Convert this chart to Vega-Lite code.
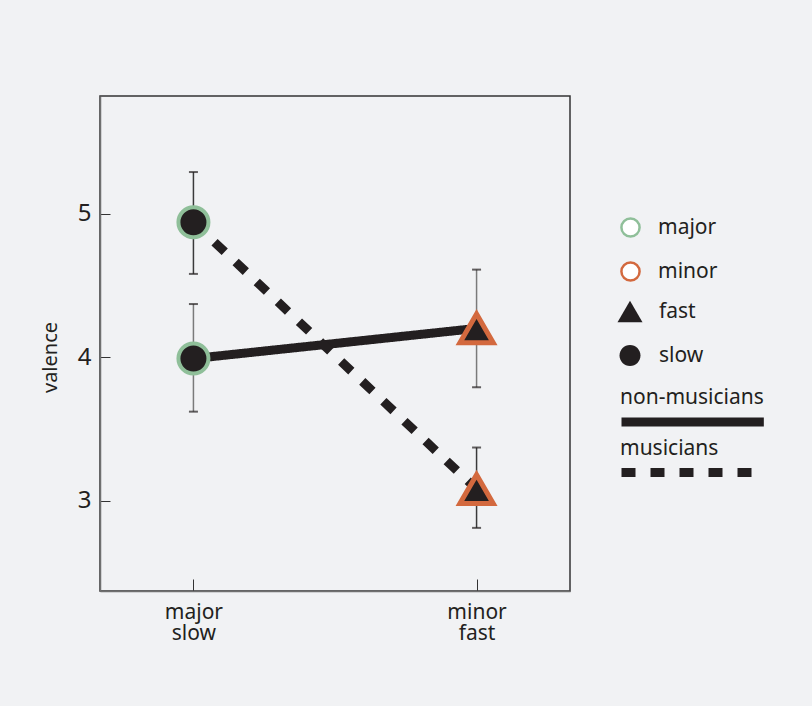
{
  "$schema": "https://vega.github.io/schema/vega-lite/v6.json",
  "width": 470,
  "height": 495,
  "autosize": {"type": "none"},
  "padding": {"left": 100, "top": 96, "right": 242, "bottom": 115},
  "background": "#f1f2f4",
  "config": {
    "font": "Noto Sans",
    "view": {"stroke": "#333333", "strokeWidth": 1.5},
    "style": {"guide-label": {"lineHeight": 48}},
    "axis": {"grid": false, "domainColor": "#707070", "domainWidth": 1.5, "tickColor": "#333333", "tickWidth": 1, "labelColor": "#231f20", "titleColor": "#231f20", "labelFont": "Noto Sans", "titleFont": "Noto Sans"},
    "legend": {"labelFont": "Noto Sans", "labelFontSize": 21, "labelColor": "#231f20", "padding": 0}
  },
  "data": {
    "values": [
      {"group": "non-musicians", "cond": "major/slow", "key": "major", "tempo": "slow", "valence": 3.99, "lo": 3.62, "hi": 4.37},
      {"group": "non-musicians", "cond": "minor/fast", "key": "minor", "tempo": "fast", "valence": 4.2, "lo": 3.79, "hi": 4.61},
      {"group": "musicians", "cond": "major/slow", "key": "major", "tempo": "slow", "valence": 4.94, "lo": 4.58, "hi": 5.29},
      {"group": "musicians", "cond": "minor/fast", "key": "minor", "tempo": "fast", "valence": 3.08, "lo": 2.81, "hi": 3.37}
    ]
  },
  "encoding": {
    "x": {
      "field": "cond", "type": "nominal",
      "scale": {"type": "point", "padding": 0.33, "domain": ["major/slow", "minor/fast"]},
      "axis": {"title": null, "labelAngle": 0, "labelExpr": "split(datum.label, '/')", "labelFontSize": 21, "labelLineHeight": 21, "tickSize": -12, "labelPadding": 22, "labelBaseline": "top"}
    }
  },
  "layer": [
    {
      "mark": {"type": "rule", "strokeWidth": 1.5},
      "encoding": {
        "y": {"field": "lo", "type": "quantitative", "scale": {"domain": [2.37, 5.82], "nice": false, "zero": false},
          "axis": {"values": [3, 4, 5], "format": "d", "title": "valence", "titleFontSize": 20, "titleFontWeight": "normal", "labelFontSize": 24, "tickSize": -10, "labelPadding": 19, "titleX": -40, "titleY": 261}},
        "y2": {"field": "hi"},
        "color": {"field": "group", "type": "nominal", "scale": {"domain": ["musicians", "non-musicians"], "range": ["#3a3a3a", "#7a7a7a"]}, "legend": null}
      }
    },
    {
      "mark": {"type": "tick", "orient": "horizontal", "size": 9, "thickness": 2, "color": "#231f20"},
      "encoding": {"y": {"field": "lo", "type": "quantitative"}}
    },
    {
      "mark": {"type": "tick", "orient": "horizontal", "size": 9, "thickness": 2, "color": "#231f20"},
      "encoding": {"y": {"field": "hi", "type": "quantitative"}}
    },
    {
      "mark": {"type": "line", "color": "#231f20", "strokeWidth": 9, "strokeCap": "butt"},
      "encoding": {
        "y": {"field": "valence", "type": "quantitative"},
        "strokeDash": {
          "field": "group", "type": "nominal",
          "scale": {"domain": ["non-musicians", "musicians"], "range": [[1, 0], [14, 15]]},
          "legend": {
            "title": null, "orient": "none", "legendX": 517, "legendY": 321,
            "symbolType": "stroke", "symbolSize": 21316, "symbolStrokeWidth": 9, "symbolStrokeColor": "#231f20",
            "clipHeight": 10, "rowPadding": 10.5, "labelOffset": -152, "labelBaseline": "line-bottom"
          }
        }
      }
    },
    {
      "transform": [{"filter": "datum.tempo === 'slow'"}],
      "mark": {"type": "point", "filled": true, "strokeWidth": 4, "size": 1276, "opacity": 1},
      "encoding": {
        "y": {"field": "valence", "type": "quantitative"},
        "fill": {"field": "tempo", "type": "nominal", "scale": {"domain": ["slow", "fast"], "range": ["#231f20", "#231f20"]}, "legend": null},
        "shape": {"field": "tempo", "type": "nominal", "scale": {"domain": ["fast", "slow"], "range": ["M0,-0.866L1,0.866L-1,0.866Z", "M-0.84,0A0.84,0.84,0,1,0,0.84,0A0.84,0.84,0,1,0,-0.84,0Z"]},
          "legend": {"title": null, "orient": "none", "legendX": 517.5, "legendY": 203, "symbolSize": 625, "rowPadding": 20, "labelOffset": 16.5, "symbolFillColor": "#231f20", "symbolStrokeWidth": 0}},
        "stroke": {"field": "key", "type": "nominal", "scale": {"domain": ["major", "minor"], "range": ["#8fbf99", "#d3693e"]},
          "legend": {"title": null, "orient": "none", "legendX": 520, "legendY": 121, "symbolType": "circle", "symbolSize": 330, "symbolStrokeWidth": 2.5, "symbolFillColor": "#ffffff", "rowPadding": 15, "labelOffset": 17}}
      }
    },
    {
      "transform": [{"filter": "datum.tempo === 'fast'"}],
      "mark": {"type": "point", "filled": true, "strokeWidth": 5, "size": 1110, "opacity": 1},
      "encoding": {
        "y": {"field": "valence", "type": "quantitative"},
        "fill": {"field": "tempo", "type": "nominal", "legend": null},
        "shape": {"field": "tempo", "type": "nominal",
          "legend": {"title": null, "orient": "none", "legendX": 517.5, "legendY": 203, "symbolSize": 625, "rowPadding": 20, "labelOffset": 16.5, "symbolFillColor": "#231f20", "symbolStrokeWidth": 0}},
        "stroke": {"field": "key", "type": "nominal",
          "legend": {"title": null, "orient": "none", "legendX": 520, "legendY": 121, "symbolType": "circle", "symbolSize": 330, "symbolStrokeWidth": 2.5, "symbolFillColor": "#ffffff", "rowPadding": 15, "labelOffset": 17}}
      }
    }
  ]
}
